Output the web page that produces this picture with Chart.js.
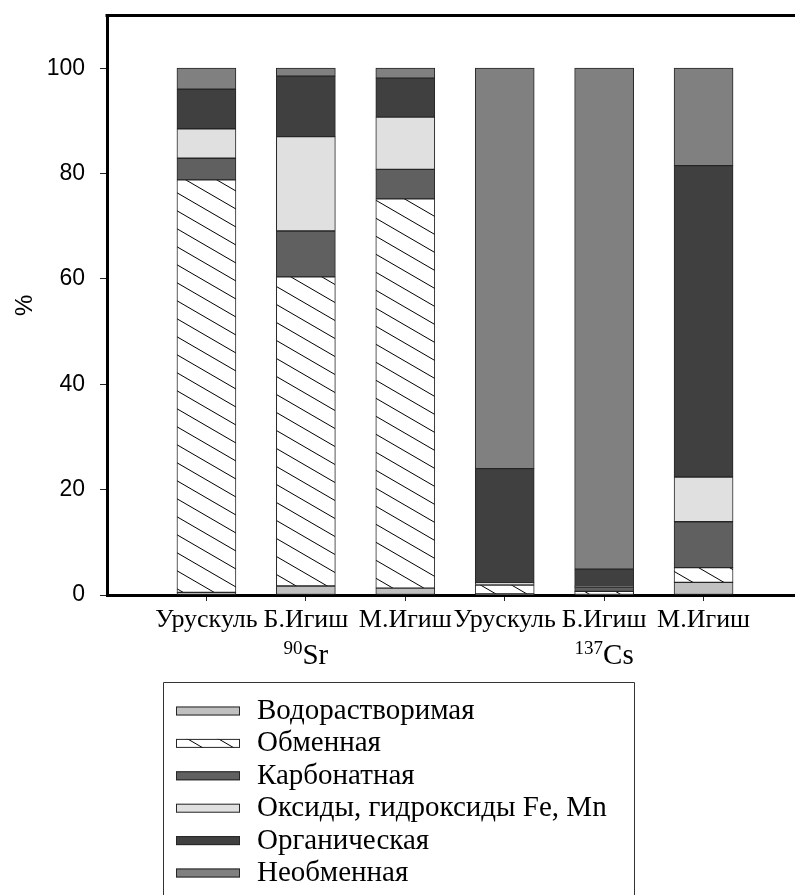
<!DOCTYPE html>
<html>
<head>
<meta charset="utf-8">
<script src="https://cdn.jsdelivr.net/npm/chart.js"></script>
<style>
  html, body { margin: 0; padding: 0; background: #fff; overflow: hidden; }
  #wrap { width: 806px; height: 895px; }
</style>
</head>
<body>
<div id="wrap"><canvas id="chart" width="806" height="895"></canvas></div>
<script>
'use strict';

// sites, first three are 90Sr, last three 137Cs
var categories = ['Урускуль', 'Б.Игиш', 'М.Игиш', 'Урускуль', 'Б.Игиш', 'М.Игиш'];

var fractionNames = ['Водорастворимая', 'Обменная', 'Карбонатная',
  'Оксиды, гидроксиды Fe, Mn', 'Органическая', 'Необменная'];

var waterSoluble = [0.5, 1.7, 1.3, 0.2, 0.1, 2.4];
var exchangeable = [78.3, 58.7, 73.9, 1.7, 0.6, 2.8];
var carbonate    = [4.1, 8.7, 5.6, 0.1, 0.8, 8.7];
var oxides       = [5.6, 17.9, 9.9, 0.3, 0.1, 8.5];
var organic      = [7.5, 11.5, 7.4, 21.7, 3.3, 59.1];
var fixed        = [4.0, 1.5, 1.9, 76.0, 95.1, 18.5];

var yTicks = [0, 20, 40, 60, 80, 100];

// isotope captions under the middle site of each group
var isoMass = ['90', '137'];
var isoSymbol = ['Sr', 'Cs'];
var isoUnder = [2, 5];

function hatch() {
  var w = 31, h = 18;
  var c = document.createElement('canvas');
  c.width = w; c.height = h;
  var g = c.getContext('2d');
  g.fillStyle = '#fff';
  g.fillRect(0, 0, w, h);
  g.strokeStyle = '#000';
  g.lineWidth = 1;
  for (var k = -1; k <= 1; k++) {
    g.beginPath();
    g.moveTo(-w, -h + k * h);
    g.lineTo(2 * w, 2 * h + k * h);
    g.stroke();
  }
  return g.createPattern(c, 'repeat');
}

var ctx = document.getElementById('chart').getContext('2d');
var fills = ['#c0c0c0', hatch(), '#606060', '#e0e0e0', '#404040', '#808080'];
var series = [waterSoluble, exchangeable, carbonate, oxides, organic, fixed];

// empty slot on each side so the bars sit where the original puts them
var labels = [''].concat(categories, ['']);

var datasets = series.map(function (vals, i) {
  return {
    label: fractionNames[i],
    data: [null].concat(vals, [null]),
    backgroundColor: fills[i],
    borderColor: '#262626',
    borderWidth: 1,
    borderSkipped: false,
    barThickness: 59
  };
});

var framePlugin = {
  id: 'frame',
  afterDraw: function (chart) {
    var c = chart.ctx, a = chart.chartArea;
    c.save();
    c.strokeStyle = '#000';
    c.lineWidth = 3;
    c.beginPath();
    c.moveTo(a.left - 1.5, a.top);
    c.lineTo(chart.width, a.top);
    c.stroke();

    // isotope captions
    var xs = chart.scales.x;
    c.fillStyle = '#000';
    c.textBaseline = 'alphabetic';
    for (var i = 0; i < isoMass.length; i++) {
      c.font = '19px "Liberation Serif"';
      var mw = c.measureText(isoMass[i]).width;
      c.font = '29px "Liberation Serif"';
      var sw = c.measureText(isoSymbol[i]).width;
      var x0 = xs.getPixelForValue(isoUnder[i]) - (mw + sw) / 2;
      c.font = '19px "Liberation Serif"';
      c.textAlign = 'left';
      c.fillText(isoMass[i], x0, a.bottom + 59);
      c.font = '29px "Liberation Serif"';
      c.fillText(isoSymbol[i], x0 + mw, a.bottom + 69);
    }

    // boxed legend
    var bx = 163, by = 682, bw = 471;
    c.lineWidth = 1;
    c.strokeStyle = '#333';
    c.beginPath();
    c.moveTo(bx + 0.5, chart.height + 2);
    c.lineTo(bx + 0.5, by + 0.5);
    c.lineTo(bx + bw + 0.5, by + 0.5);
    c.lineTo(bx + bw + 0.5, chart.height + 2);
    c.stroke();
    c.font = '29px "Liberation Serif"';
    chart.data.datasets.forEach(function (ds, i) {
      var cy = 711 + i * 32.4;
      c.fillStyle = ds.backgroundColor;
      c.fillRect(176, cy - 4.5, 64, 9);
      c.strokeStyle = '#262626';
      c.strokeRect(176.5, cy - 4, 63, 8);
      c.fillStyle = '#000';
      c.fillText(ds.label, 257, cy + 8);
    });
    c.restore();
  }
};

new Chart(ctx, {
  type: 'bar',
  data: { labels: labels, datasets: datasets },
  plugins: [framePlugin],
  options: {
    responsive: false,
    animation: false,
    events: [],
    layout: { padding: { top: 15.5, right: 3, bottom: 0, left: 0 } },
    plugins: { legend: { display: false }, tooltip: { enabled: false } },
    scales: {
      x: {
        stacked: true,
        offset: false,
        afterBuildTicks: function (s) {
          s.ticks = s.ticks.filter(function (t) { return t.value > 0 && t.value <= categories.length; });
        },
        afterFit: function (s) { s.height = 300; s.paddingLeft = 0; s.paddingRight = 0; },
        grid: { offset: false, drawOnChartArea: false, tickLength: 6, tickColor: '#222' },
        border: { display: true, color: '#000', width: 3 },
        ticks: {
          autoSkip: false, maxRotation: 0, padding: 4, color: '#000',
          font: { family: 'Liberation Serif', size: 26 }
        }
      },
      y: {
        stacked: true,
        min: 0,
        max: 110,
        afterBuildTicks: function (s) {
          s.ticks = yTicks.map(function (v) { return { value: v }; });
        },
        afterFit: function (s) { s.width = 107; s.paddingTop = 0; s.paddingBottom = 0; },
        grid: { drawOnChartArea: false, tickLength: 7, tickColor: '#222' },
        border: { display: true, color: '#000', width: 3 },
        ticks: {
          padding: 15, color: '#000',
          font: { family: 'Liberation Sans', size: 23 }
        },
        title: {
          display: true, text: '%', color: '#000',
          font: { family: 'Liberation Sans', size: 24 },
          padding: { top: 11, bottom: 0 }
        }
      }
    }
  }
});
</script>
</body>
</html>
